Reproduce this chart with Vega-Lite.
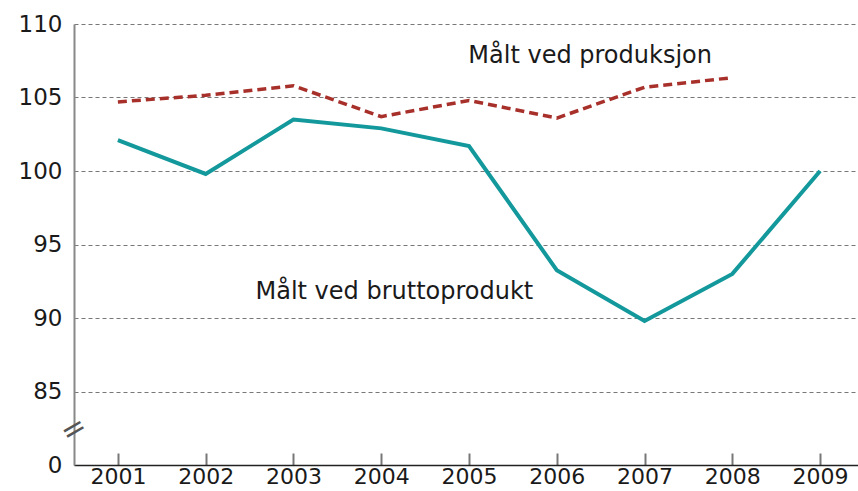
{
  "$schema": "https://vega.github.io/schema/vega-lite/v6.json",
  "autosize": "none",
  "width": 790,
  "height": 441,
  "padding": {"left": 74, "top": 24, "right": 0, "bottom": 26},
  "background": "white",
  "config": {
    "view": {"stroke": null},
    "font": "DejaVu Sans"
  },
  "datasets": {
    "series": [
      {"year": 2001, "value": 102.1, "serie": "brutto"},
      {"year": 2002, "value": 99.8, "serie": "brutto"},
      {"year": 2003, "value": 103.5, "serie": "brutto"},
      {"year": 2004, "value": 102.9, "serie": "brutto"},
      {"year": 2005, "value": 101.7, "serie": "brutto"},
      {"year": 2006, "value": 93.25, "serie": "brutto"},
      {"year": 2007, "value": 89.8, "serie": "brutto"},
      {"year": 2008, "value": 93.0, "serie": "brutto"},
      {"year": 2009, "value": 100.0, "serie": "brutto"},
      {"year": 2001, "value": 104.7, "serie": "produksjon"},
      {"year": 2002, "value": 105.15, "serie": "produksjon"},
      {"year": 2003, "value": 105.8, "serie": "produksjon"},
      {"year": 2004, "value": 103.7, "serie": "produksjon"},
      {"year": 2005, "value": 104.8, "serie": "produksjon"},
      {"year": 2006, "value": 103.6, "serie": "produksjon"},
      {"year": 2007, "value": 105.7, "serie": "produksjon"},
      {"year": 2008, "value": 106.35, "serie": "produksjon"}
    ],
    "labels": [
      {"year": 2006.38, "value": 107.85, "text": "Målt ved produksjon"},
      {"year": 2004.15, "value": 91.8, "text": "Målt ved bruttoprodukt"}
    ],
    "brk": [{"value": 82.4, "text": "="}]
  },
  "layer": [
    {
      "data": {"name": "series"},
      "transform": [{"filter": "datum.serie == 'brutto'"}],
      "mark": {"type": "line", "color": "#13989c", "strokeWidth": 4, "clip": false},
      "encoding": {
        "x": {
          "field": "year", "type": "quantitative",
          "scale": {"domain": [2000.5, 2009.5], "nice": false, "zero": false},
          "axis": {
            "title": null, "values": [2001, 2002, 2003, 2004, 2005, 2006, 2007, 2008, 2009],
            "format": "d", "grid": false, "domainColor": "#222", "domainWidth": 1.5,
            "tickColor": "#777", "tickWidth": 2, "tickSize": -12, "labelPadding": 13,
            "labelFontSize": 22, "labelColor": "#1a1a1a", "labelFlush": false
          }
        },
        "y": {
          "field": "value", "type": "quantitative",
          "scale": {"domain": [80, 110], "nice": false, "zero": false},
          "axis": {
            "title": null, "values": [80, 85, 90, 95, 100, 105, 110],
            "labelExpr": "datum.value == 80 ? '0' : datum.label",
            "grid": true, "gridDash": [4, 3], "gridColor": "#555", "gridWidth": 0.8,
            "ticks": false, "domainColor": "#888", "domainWidth": 2,
            "labelFontSize": 23, "labelColor": "#1a1a1a", "labelPadding": 12
          }
        }
      }
    },
    {
      "data": {"name": "series"},
      "transform": [{"filter": "datum.serie == 'produksjon'"}],
      "mark": {"type": "line", "color": "#a8302b", "strokeWidth": 3.5, "strokeDash": [9, 5]},
      "encoding": {
        "x": {"field": "year", "type": "quantitative"},
        "y": {"field": "value", "type": "quantitative"}
      }
    },
    {
      "data": {"name": "labels"},
      "mark": {"type": "text", "fontSize": 24, "color": "#1a1a1a", "align": "center", "baseline": "middle"},
      "encoding": {
        "x": {"field": "year", "type": "quantitative"},
        "y": {"field": "value", "type": "quantitative"},
        "text": {"field": "text"}
      }
    },
    {
      "data": {"name": "brk"},
      "mark": {"type": "text", "fontSize": 30, "color": "#555", "angle": -30, "align": "center", "baseline": "middle"},
      "encoding": {
        "x": {"datum": 2000.5, "type": "quantitative"},
        "y": {"field": "value", "type": "quantitative"},
        "text": {"field": "text"}
      }
    }
  ]
}
